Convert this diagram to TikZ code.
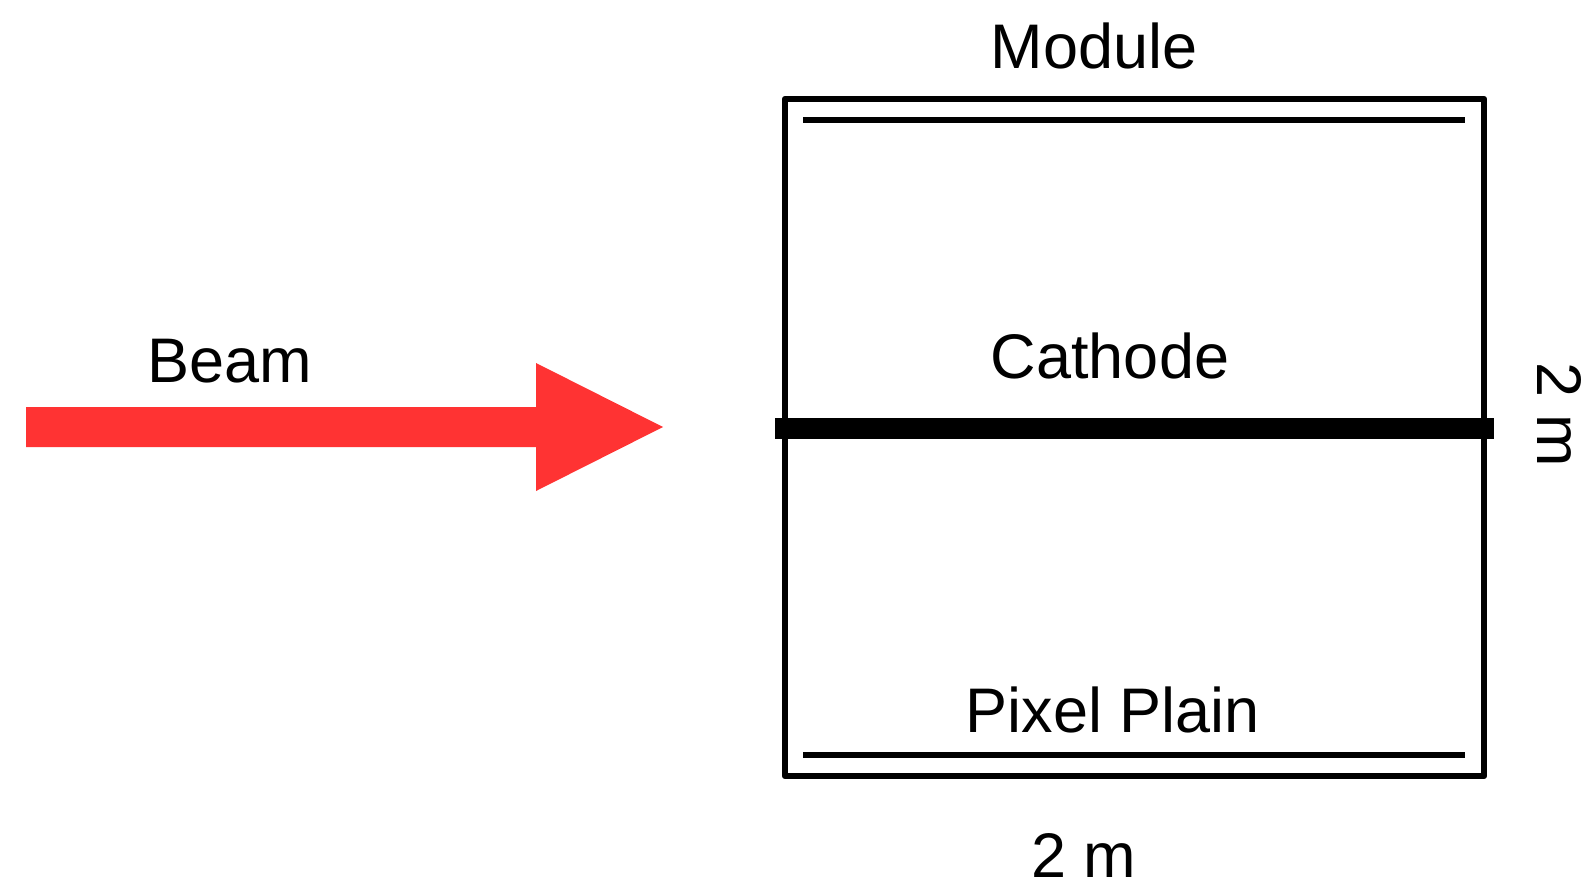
\documentclass[tikz,border=0pt]{standalone}
\usepackage{fontspec}
\setmainfont{Liberation Sans}
\definecolor{beamred}{HTML}{FF3333}
\begin{document}
\begin{tikzpicture}[x=1pt,y=-1pt,
  lbl/.style={anchor=base,inner sep=0pt,font=\fontsize{63}{70}\selectfont},
  frame/.style={line width=6.5pt,line join=round,line cap=round},
  plate/.style={line width=6.5pt},
  cathodebar/.style={line width=21pt}]
\useasboundingbox (0,0) rectangle (1594,882);
% beam arrow
\fill[beamred] (26,407) -- (536,407) -- (536,363) -- (663,427) -- (536,491) -- (536,447) -- (26,447) -- cycle;
\node[lbl] (beam) at (230,382) {Beam};
% module frame
\draw[frame] (785,99) rectangle (1484,776);
\draw[plate] (803,120) -- (1465,120);
\draw[plate] (803,755) -- (1465,755);
\draw[cathodebar] (775,428) -- (1494,428);
% labels
\node[lbl] (module) at (1094,69) {Module};
\node[lbl] (cathode) at (1110,378) {Cathode};
\node[lbl] (pixel) at (1113,732) {Pixel Plain};
\node[lbl] (width) at (1084,877) {2 m};
\node[lbl,rotate=-90] (height) at (1537,415) {2 m};
\end{tikzpicture}
\end{document}
